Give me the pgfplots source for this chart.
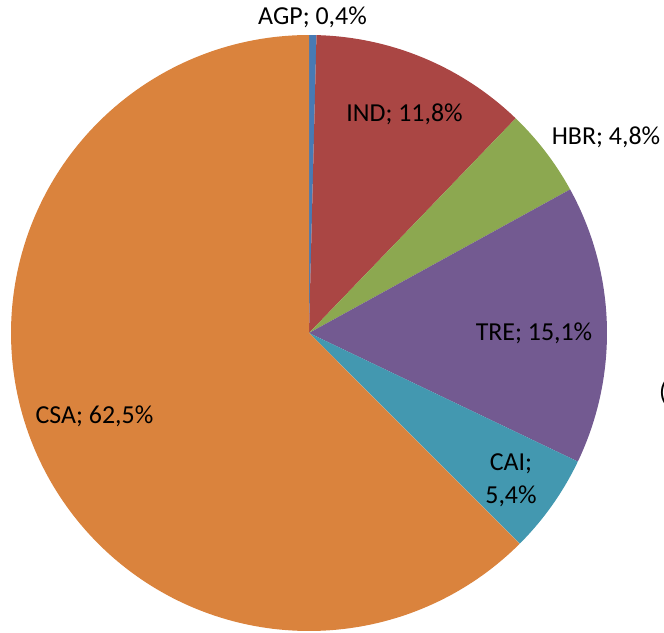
\documentclass[border=0pt]{standalone}
\usepackage{pgfplots}
\pgfplotsset{compat=1.18}
\usepackage{fontspec}
\setmainfont{Carlito}
\definecolor{cAGP}{RGB}{72,122,180}
\definecolor{cIND}{RGB}{170,70,68}
\definecolor{cHBR}{RGB}{140,168,80}
\definecolor{cTRE}{RGB}{115,90,145}
\definecolor{cCAI}{RGB}{67,152,176}
\definecolor{cCSA}{RGB}{218,131,61}
% shares (percent), clockwise from 12 o'clock
\def\pAGP{0.4}
\def\pIND{11.8}
\def\pHBR{4.8}
\def\pTRE{15.1}
\def\pCAI{5.4}
\def\pCSA{62.5}
\begin{document}
\begin{tikzpicture}[lbl/.style={font=\fontsize{26}{31}\selectfont,inner sep=0pt,anchor=base}]
\pgfmathsetmacro{\aA}{90}
\pgfmathsetmacro{\aB}{\aA-3.6*\pAGP}
\pgfmathsetmacro{\aC}{\aB-3.6*\pIND}
\pgfmathsetmacro{\aD}{\aC-3.6*\pHBR}
\pgfmathsetmacro{\aE}{\aD-3.6*\pTRE}
\pgfmathsetmacro{\aF}{\aE-3.6*\pCAI}
\pgfmathsetmacro{\aG}{\aF-3.6*\pCSA}
\begin{axis}[x=1bp,y=1bp,xmin=0,xmax=664,ymin=0,ymax=633,hide axis,clip=false]
\addplot[fill=cAGP,draw=none,domain=\aB:\aA,samples=5,variable=\t]
  ({309+298*cos(\t)},{300+298*sin(\t)}) -- (axis cs:309,300) -- cycle;
\addplot[fill=cIND,draw=none,domain=\aC:\aB,samples=60,variable=\t]
  ({309+298*cos(\t)},{300+298*sin(\t)}) -- (axis cs:309,300) -- cycle;
\addplot[fill=cHBR,draw=none,domain=\aD:\aC,samples=30,variable=\t]
  ({309+298*cos(\t)},{300+298*sin(\t)}) -- (axis cs:309,300) -- cycle;
\addplot[fill=cTRE,draw=none,domain=\aE:\aD,samples=70,variable=\t]
  ({309+298*cos(\t)},{300+298*sin(\t)}) -- (axis cs:309,300) -- cycle;
\addplot[fill=cCAI,draw=none,domain=\aF:\aE,samples=30,variable=\t]
  ({309+298*cos(\t)},{300+298*sin(\t)}) -- (axis cs:309,300) -- cycle;
\addplot[fill=cCSA,draw=none,domain=\aG:\aF,samples=200,variable=\t]
  ({309+298*cos(\t)},{300+298*sin(\t)}) -- (axis cs:309,300) -- cycle;
\node[lbl] at (axis cs:312.5,608) {AGP; 0,4\%};
\node[lbl] at (axis cs:404.5,511.3) {IND; 11,8\%};
\node[lbl] at (axis cs:606,488) {HBR; 4,8\%};
\node[lbl] at (axis cs:534,293) {TRE; 15,1\%};
\node[lbl] at (axis cs:511,162.3) {CAI;};
\node[lbl] at (axis cs:511,130) {5,4\%};
\node[lbl] at (axis cs:94.5,210) {CSA; 62,5\%};
\node[lbl,anchor=base west] at (axis cs:659,233) {(};
\end{axis}
\pgfresetboundingbox
\useasboundingbox (0,0) rectangle (664bp,633bp);
\end{tikzpicture}
\end{document}
